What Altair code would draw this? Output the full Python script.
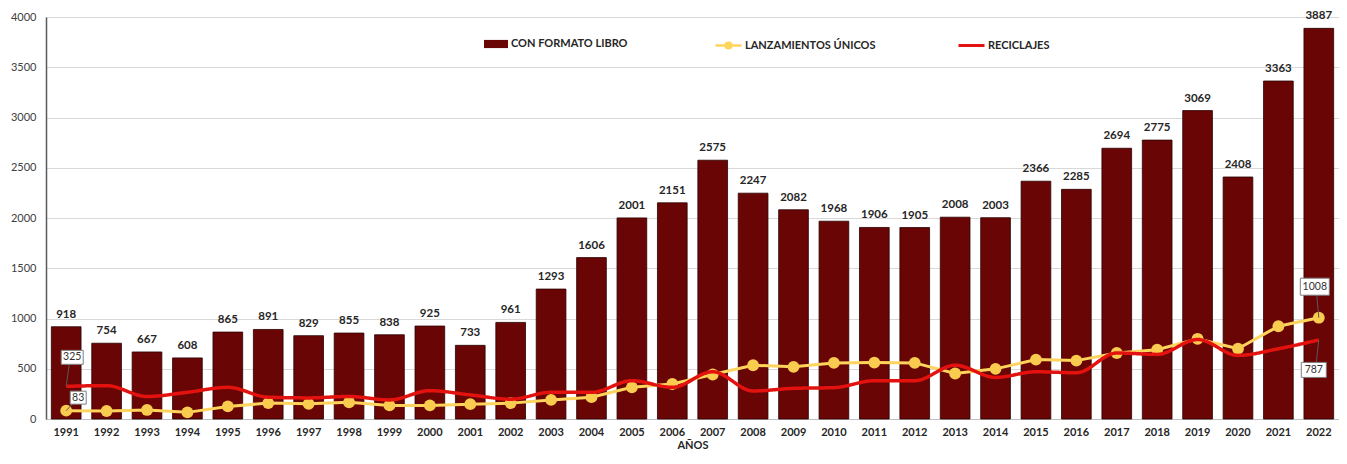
import altair as alt
import pandas as pd

years = [str(y) for y in range(1991, 2023)]
con_formato_libro = [918, 754, 667, 608, 865, 891, 829, 855, 838, 925, 733, 961, 1293, 1606,
                     2001, 2151, 2575, 2247, 2082, 1968, 1906, 1905, 2008, 2003, 2366, 2285,
                     2694, 2775, 3069, 2408, 3363, 3887]
lanzamientos_unicos = [83, 80, 90, 66, 125, 158, 151, 167, 135, 135, 148, 158, 190, 217,
                       315, 348, 443, 535, 519, 558, 561, 558, 453, 499, 591, 581,
                       657, 690, 798, 699, 923, 1008]
reciclajes = [325, 332, 224, 266, 315, 217, 210, 224, 190, 282, 240, 197, 266, 265,
              381, 315, 470, 279, 305, 312, 381, 381, 535, 414, 470, 460,
              657, 643, 791, 633, 699, 787]

s_libro = "CON FORMATO LIBRO"
s_unicos = "LANZAMIENTOS ÚNICOS"
s_recic = "RECICLAJES"

df = pd.DataFrame({
    "year": years,
    "libro": con_formato_libro,
    "unicos": lanzamientos_unicos,
    "recic": reciclajes,
    "s1": [s_libro] * len(years),
    "s2": [s_unicos] * len(years),
    "s3": [s_recic] * len(years),
})

FONT = "Lato"
BAR = "#6A0505"
YEL = "#FFD45C"
YEL_PT = "#F9CB4E"
RED = "#E3120F"

x_enc = alt.X(
    "year:O",
    scale=alt.Scale(paddingInner=0.265, paddingOuter=0.1325),
    axis=alt.Axis(title="AÑOS", labelAngle=0, labelFont=FONT, labelFontSize=11,
                  labelFontWeight="bold", labelColor="#262626", tickSize=0,
                  labelPadding=7, domainColor="#bfbfbf", domainWidth=1,
                  titleFont=FONT, titleFontSize=11, titleFontWeight="bold",
                  titleColor="#262626", titlePadding=2, grid=False),
)
y_scale = alt.Scale(domain=[0, 4000], nice=False)
y_axis = alt.Axis(title=None, values=list(range(0, 4001, 500)), format="d", grid=True,
                  gridColor="#d9d9d9", gridWidth=1, domainColor="#595959",
                  domainWidth=1.5, tickSize=0, labelPadding=10, labelFont=FONT,
                  labelFontSize=11, labelColor="#404040")

base = alt.Chart(df).encode(x=x_enc)

bars = base.mark_bar(stroke="#2a0000", strokeWidth=0.8).encode(
    y=alt.Y("libro:Q", scale=y_scale, axis=y_axis),
    fill=alt.Fill("s1:N", scale=alt.Scale(range=[BAR]),
                  legend=alt.Legend(title=None, orient="none", legendX=438, legendY=15,
                                    symbolType="M-1,-0.34H1V0.34H-1Z", symbolSize=576,
                                    symbolStrokeWidth=0, labelFont=FONT, labelFontSize=11,
                                    labelFontWeight="bold", labelColor="#262626",
                                    labelOffset=3, padding=0)),
)

bar_labels = base.mark_text(dy=-7, baseline="bottom", font=FONT, fontSize=11.5,
                            fontWeight="bold", color="#262626").encode(
    y=alt.Y("libro:Q", scale=y_scale),
    text="libro:Q",
)

yellow_line = base.mark_line(strokeWidth=3).encode(
    y=alt.Y("unicos:Q", scale=y_scale),
    stroke=alt.Stroke("s2:N", scale=alt.Scale(range=[YEL]),
                      legend=alt.Legend(title=None, orient="none", legendX=668, legendY=14,
                                        symbolType="M-1,0H1M-0.22,0a0.22,0.22 0 1,0 0.44,0a0.22,0.22 0 1,0 -0.44,0",
                                        symbolSize=676, symbolStrokeWidth=2.5,
                                        symbolFillColor=YEL, labelFont=FONT, labelFontSize=11,
                                        labelFontWeight="bold", labelColor="#262626",
                                        labelOffset=2, padding=0)),
)
yellow_pts = base.mark_point(filled=True, size=140, color=YEL_PT, opacity=1).encode(
    y=alt.Y("unicos:Q", scale=y_scale),
)

red_line = base.mark_line(strokeWidth=3.5, color=RED, interpolate="monotone").encode(
    y=alt.Y("recic:Q", scale=y_scale),
    strokeDash=alt.StrokeDash("s3:N", scale=alt.Scale(range=[[1, 0]]),
                              legend=alt.Legend(title=None, orient="none", legendX=911, legendY=14,
                                                symbolType="M-1,0H1", symbolSize=676,
                                                symbolStrokeWidth=3, symbolStrokeColor=RED,
                                                labelFont=FONT, labelFontSize=11,
                                                labelFontWeight="bold", labelColor="#262626",
                                                labelOffset=2, padding=0)),
)

# callouts (data labels with box)
call_year = ["1991", "1991", "2022", "2022"]
call_field = ["recic", "unicos", "unicos", "recic"]
call_dx = [6, 12, -4, -5]
call_dy = [-29, -13, -31, 30]
call_w = [22, 16, 29, 25]
call_h = [14, 13, 17, 15]

callouts = []
for yr, fld, dx, dy, w, h in zip(call_year, call_field, call_dx, call_dy, call_w, call_h):
    sub = df[df["year"] == yr]
    cb = alt.Chart(sub).encode(x=alt.X("year:O"), y=alt.Y(f"{fld}:Q", scale=y_scale))
    k = h / w
    tail = cb.mark_rule(color="#595959", strokeWidth=1,
                        y2Offset=dy + (h / 2 if dy < 0 else -h / 2), x2Offset=dx * 0.5).encode(
        x2=alt.X2("year"), y2=alt.Y2(f"{fld}"))
    box = cb.mark_point(shape=f"M-1,-{k:.3f}H1V{k:.3f}H-1Z", size=w * w, filled=True,
                        fill="white", stroke="#7f7f7f", strokeWidth=1, opacity=1,
                        xOffset=dx, yOffset=dy)
    txt = cb.mark_text(dx=dx, dy=dy, font=FONT, fontSize=10.5, color="#333333",
                       baseline="middle", align="center").encode(text=f"{fld}:Q")
    callouts += [tail, box, txt]

chart = alt.layer(bars, bar_labels, yellow_line, yellow_pts, red_line, *callouts).properties(
    width=1293, height=402,
    autosize=alt.AutoSizeParams(type="none"),
    padding={"left": 38, "top": 9, "right": 0, "bottom": 37},
).configure_view(stroke=None).configure(background="white")

chart.save("out.html", embed_options={"renderer": "svg", "actions": False})
